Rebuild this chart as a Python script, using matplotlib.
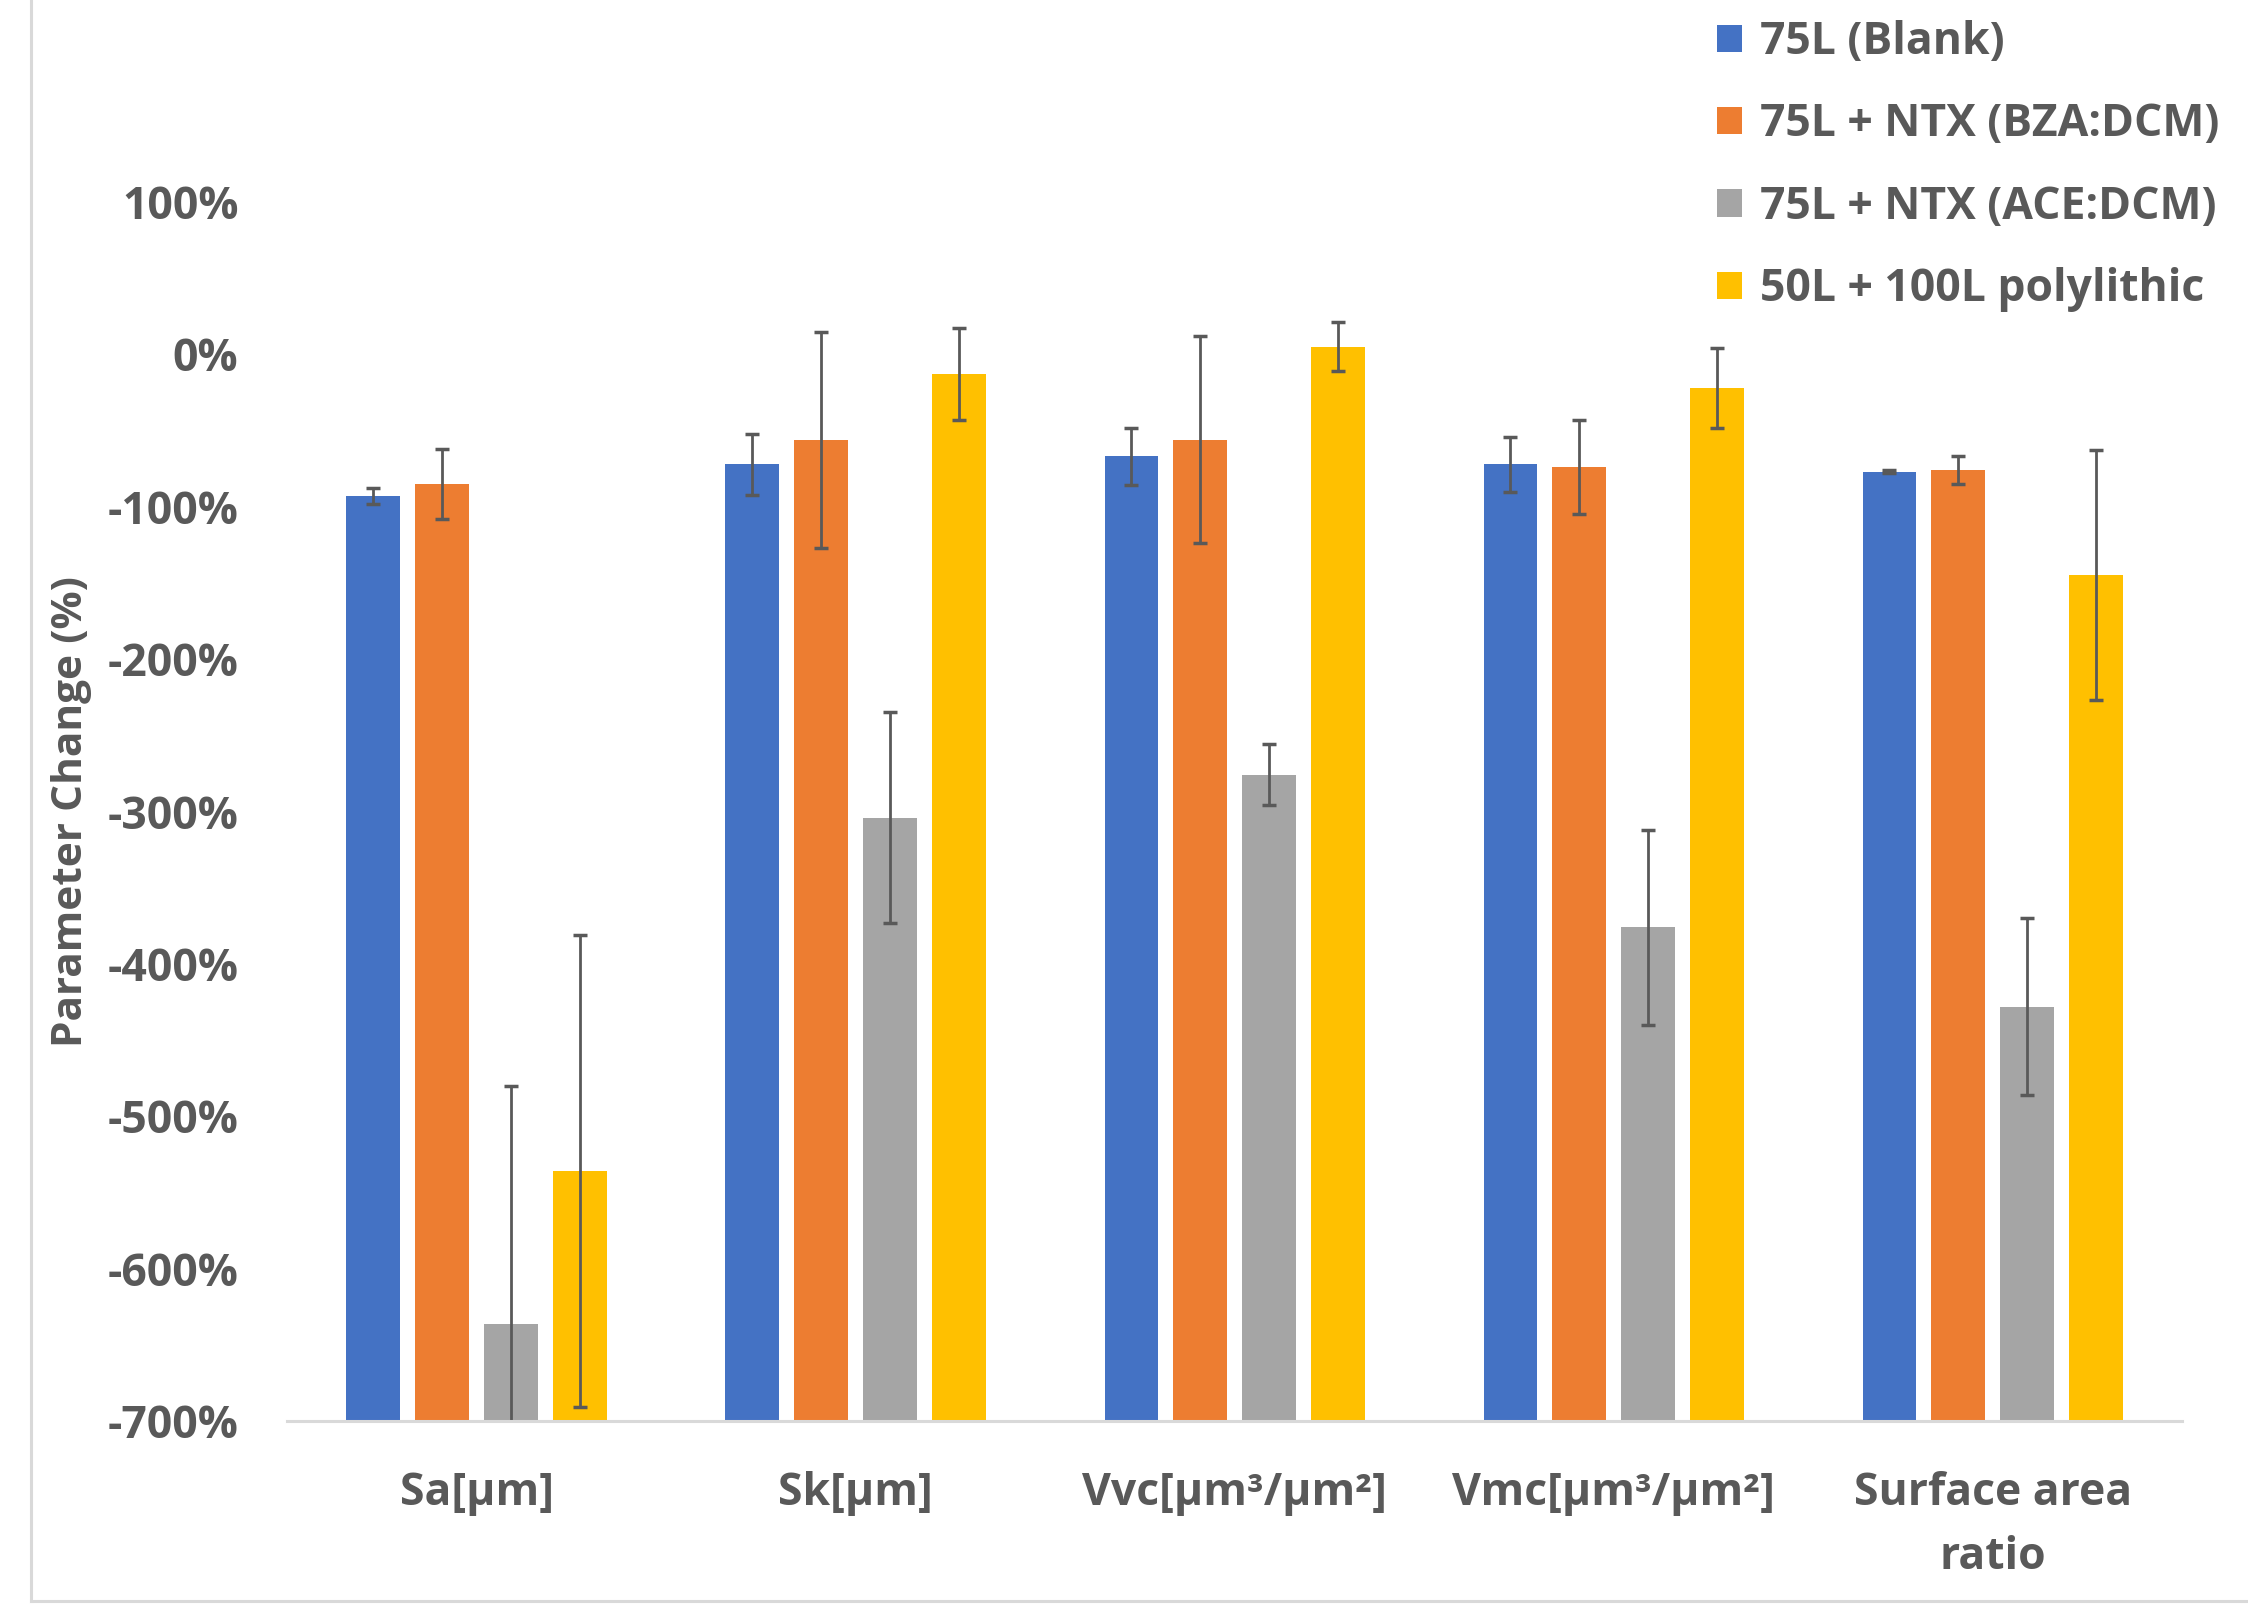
import matplotlib
matplotlib.use("Agg")
import matplotlib.pyplot as plt
from matplotlib.patches import Patch
import numpy as np

categories = ["Sa[µm]", "Sk[µm]", "Vvc[µm³/µm²]", "Vmc[µm³/µm²]", "Surface area\nratio"]
series_names = ["75L (Blank)", "75L + NTX (BZA:DCM)", "75L + NTX (ACE:DCM)", "50L + 100L polylithic"]
colors = ["#4472C4", "#ED7D31", "#A5A5A5", "#FFC000"]

# parameter change in %
blank = [-93, -72, -67, -72, -77]
blank_err = [5, 20, 19, 18, 1]
bza = [-85, -56, -56, -74, -76]
bza_err = [23, 71, 68, 31, 9]
ace = [-636, -304, -276, -376, -428]
ace_err = [156, 69, 20, 64, 58]
poly = [-536, -13, 5, -22, -145]
poly_err = [155, 30, 16, 26, 82]

yticks = [100, 0, -100, -200, -300, -400, -500, -600, -700]

values = [blank, bza, ace, poly]
errors = [blank_err, bza_err, ace_err, poly_err]

txt = "#595959"
plt.rcParams['font.family'] = ['Open Sans', 'DejaVu Sans']
plt.rcParams['font.weight'] = 'bold'

fig = plt.figure(figsize=(22.48, 16.11), dpi=100)
ax = fig.add_axes([0.1277, 0.1179, 0.843, 0.7567])

base = -700  # excel axis crosses at the minimum
x = np.arange(len(categories))
width = 0.142
pitch = 0.1815
for i, (v, e) in enumerate(zip(values, errors)):
    v = np.array(v)
    ax.bar(x + (i - 1.5) * pitch, v - base, width, bottom=base, color=colors[i],
           yerr=e, error_kw=dict(ecolor=txt, elinewidth=2, capsize=5, capthick=2.5),
           zorder=2)

ax.set_xlim(-0.5, len(categories) - 0.5)
ax.set_ylim(-700, 100)
ax.set_yticks(yticks)
ax.set_yticklabels([f"{t}%" for t in yticks])
ax.set_xticks(x)
ax.set_xticklabels(categories, linespacing=1.55)
ax.tick_params(axis='both', length=0, labelsize=32, labelcolor=txt)
ax.tick_params(axis='y', pad=35)
ax.tick_params(axis='x', pad=36)
for lab in ax.get_xticklabels() + ax.get_yticklabels():
    lab.set_fontweight('bold')

for s in ['top', 'right', 'left']:
    ax.spines[s].set_visible(False)
ax.spines['bottom'].set_color('#d9d9d9')
ax.spines['bottom'].set_linewidth(2.2)

fig.text(0.032, 0.5 * (0.1179 + 0.8746), "Parameter Change (%)", rotation=90,
         ha='center', va='center', fontsize=30.5, color=txt, fontweight='bold')

handles = [Patch(facecolor=c) for c in colors]
leg = fig.legend(handles, series_names, loc='upper left', bbox_to_anchor=(0.7638, 0.9875),
                 frameon=False, fontsize=32, handlelength=0.57, handleheight=0.57,
                 handletextpad=0.4, labelspacing=0.84, borderpad=0, borderaxespad=0)
for t in leg.get_texts():
    t.set_color(txt)
    t.set_fontweight('bold')

# light frame of the chart area (left and bottom visible in the crop)
fig.add_artist(plt.Line2D([0.0136, 0.0136], [0.0062, 1.0], transform=fig.transFigure,
                          color='#d9d9d9', linewidth=2.2))
fig.add_artist(plt.Line2D([0.0136, 1.0], [0.0062, 0.0062], transform=fig.transFigure,
                          color='#d9d9d9', linewidth=2.2))

fig.savefig("out.png", dpi=100, facecolor='white')
